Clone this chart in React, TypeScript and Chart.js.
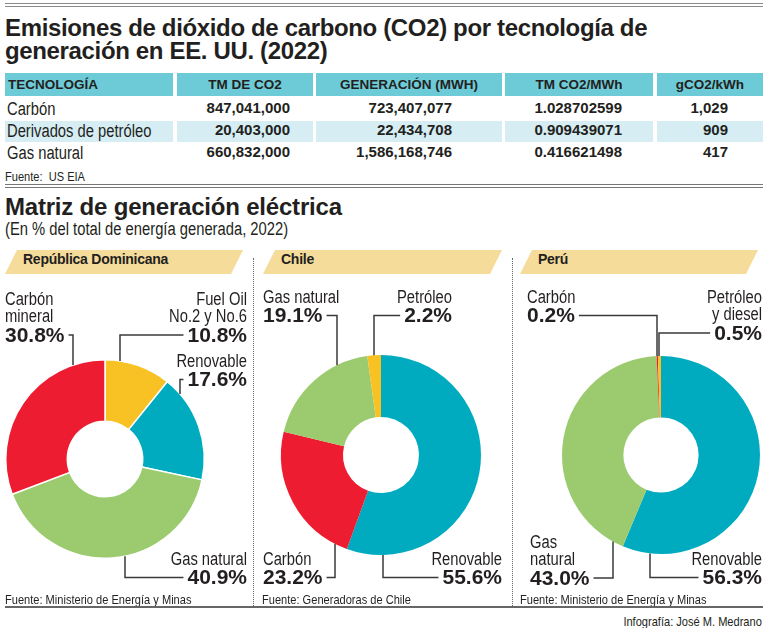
import React, { useEffect, useRef } from 'react';
import { Chart, registerables } from 'chart.js';

Chart.register(...registerables);

// ---------- DATA ----------
const tableHeaders = ['TECNOLOGÍA', 'TM DE CO2', 'GENERACIÓN (MWH)', 'TM CO2/MWh', 'gCO2/kWh'];
const techRows = ['Carbón', 'Derivados de petróleo', 'Gas natural'];
const tmCO2 = ['847,041,000', '20,403,000', '660,832,000'];
const generacion = ['723,407,077', '22,434,708', '1,586,168,746'];
const tmPerMWh = ['1.028702599', '0.909439071', '0.416621498'];
const gPerKWh = ['1,029', '909', '417'];

const drLabels = ['Fuel Oil\nNo.2 y No.6', 'Renovable', 'Gas natural', 'Carbón\nmineral'];
const drValues = [10.8, 17.6, 40.9, 30.8];
const chileLabels = ['Renovable', 'Carbón', 'Gas natural', 'Petróleo'];
const chileValues = [55.6, 23.2, 19.1, 2.2];
const peruLabels = ['Renovable', 'Gas\nnatural', 'Carbón', 'Petróleo\ny diesel'];
const peruValues = [56.3, 43.0, 0.2, 0.5];

// ---------- STYLE ----------
const RED = '#ed1c31';
const YELLOW = '#f8c124';
const TEAL = '#00abc0';
const GREEN = '#9bcb6e';
const INK = '#231f20';
const SANS = "'Liberation Sans', Arial, sans-serif";
const SQ = 0.82; // horizontal squeeze to mimic a narrow face

const drColors = [YELLOW, TEAL, GREEN, RED];
const chileColors = [TEAL, RED, GREEN, YELLOW];
const peruColors = [TEAL, GREEN, RED, YELLOW];

type Spec = { idx: number; align: 'left' | 'right'; x: number; y: number; vx: number; side: 'top' | 'bottom' };

const LINE = 17.5;

function leaderPlugin(specs: Spec[]) {
  return {
    id: 'leaders',
    afterDraw(chart: any) {
      const ctx: CanvasRenderingContext2D = chart.ctx;
      const arc: any = chart.getDatasetMeta(0).data[0];
      const cx = arc.x, cy = arc.y, r = arc.outerRadius;
      const labels = chart.data.labels as string[];
      const values = chart.data.datasets[0].data as number[];
      specs.forEach((s) => {
        const lines = String(labels[s.idx]).split('\n');
        const pct = values[s.idx].toFixed(1) + '%';
        ctx.save();
        ctx.fillStyle = INK;
        ctx.textBaseline = 'middle';
        ctx.textAlign = s.align;
        ctx.font = `18px ${SANS}`;
        lines.forEach((ln, i) => {
          ctx.save();
          ctx.translate(s.x, s.y + i * LINE);
          ctx.scale(SQ, 1);
          ctx.fillText(ln, 0, 0);
          ctx.restore();
        });
        const py = s.y + lines.length * LINE;
        ctx.font = `bold 21px ${SANS}`;
        ctx.fillText(pct, s.x, py + 1);
        const w = ctx.measureText(pct).width;
        const sx = s.align === 'left' ? s.x + w + 4 : s.x - w - 4;
        const dx = s.vx - cx;
        const h = Math.sqrt(Math.max(r * r - dx * dx, 0));
        const ey = s.side === 'top' ? cy - h : cy + h;
        ctx.strokeStyle = '#3a3a3a';
        ctx.lineWidth = 1.5;
        ctx.beginPath();
        ctx.moveTo(sx, py);
        ctx.lineTo(s.vx, py);
        ctx.lineTo(s.vx, ey);
        ctx.stroke();
        ctx.restore();
      });
    },
  };
}

type DonutProps = {
  labels: string[];
  values: number[];
  colors: string[];
  specs: Spec[];
  left: number;
  top: number;
  width: number;
  height: number;
  padding: { left: number; right: number; top: number; bottom: number };
  borderWidth: number;
};

function Donut(p: DonutProps) {
  const ref = useRef<HTMLCanvasElement>(null);
  useEffect(() => {
    const chart = new Chart(ref.current as HTMLCanvasElement, {
      type: 'doughnut',
      data: {
        labels: p.labels,
        datasets: [
          {
            data: p.values,
            backgroundColor: p.colors,
            borderColor: '#ffffff',
            borderWidth: p.borderWidth,
          },
        ],
      },
      options: {
        responsive: false,
        animation: false,
        events: [],
        cutout: '38%',
        layout: { padding: p.padding },
        plugins: { legend: { display: false }, tooltip: { enabled: false } },
      } as any,
      plugins: [leaderPlugin(p.specs)],
    });
    return () => chart.destroy();
  }, []);
  return (
    <canvas
      ref={ref}
      width={p.width}
      height={p.height}
      style={{ position: 'absolute', left: p.left, top: p.top, width: p.width, height: p.height }}
    />
  );
}

const abs = (o: React.CSSProperties): React.CSSProperties => ({ position: 'absolute', ...o });
const narrow = (o: React.CSSProperties, origin = '0 0'): React.CSSProperties =>
  abs({ fontFamily: SANS, whiteSpace: 'nowrap', transform: `scaleX(${SQ})`, transformOrigin: origin, ...o });

const cols = [
  { l: 5, r: 173, right: 0 },
  { l: 177, r: 313, right: 290 },
  { l: 316, r: 502, right: 452 },
  { l: 505, r: 653, right: 622 },
  { l: 657, r: 763, right: 728 },
];

function Banner({ left, width, text }: { left: number; width: number; text: string }) {
  return (
    <div
      style={abs({
        left,
        top: 250,
        width,
        height: 24,
        background: '#f6dc9a',
        clipPath: 'polygon(12px 0, 100% 0, calc(100% - 12px) 100%, 0 100%)',
      })}
    >
      <div
        style={abs({
          left: 18,
          top: 1,
          lineHeight: '24px',
          font: `bold 14px ${SANS}`,
          letterSpacing: '-0.25px',
          color: INK,
          whiteSpace: 'nowrap',
        })}
      >
        {text}
      </div>
    </div>
  );
}

export default function App() {
  const rowsData = [tmCO2, generacion, tmPerMWh, gPerKWh];
  return (
    <div
      style={abs({
        left: 0,
        top: 0,
        width: 768,
        height: 628,
        background: '#fff',
        overflow: 'hidden',
        color: INK,
        fontFamily: SANS,
      })}
    >
      {/* top double rule */}
      <div style={abs({ left: 5, top: 3, width: 758, height: 2, borderTop: '1.5px solid #8a8a8a', borderBottom: '1.5px solid #8a8a8a' })} />
      <div style={abs({ left: 5, top: 16, font: `bold 24px ${SANS}`, lineHeight: '24px', letterSpacing: '-0.35px', whiteSpace: 'nowrap' })}>
        Emisiones de dióxido de carbono (CO2) por tecnología de
      </div>
      <div style={abs({ left: 5, top: 39, font: `bold 24px ${SANS}`, lineHeight: '24px', letterSpacing: '-0.35px', whiteSpace: 'nowrap' })}>
        generación en EE. UU. (2022)
      </div>

      {/* table header */}
      {tableHeaders.map((h, i) => (
        <div
          key={h}
          style={abs({
            left: cols[i].l,
            top: 73,
            width: cols[i].r - cols[i].l,
            height: 23,
            background: '#6dcbd7',
            font: `bold 13.5px ${SANS}`,
            lineHeight: '23px',
            textAlign: i === 0 ? 'left' : 'center',
            paddingLeft: i === 0 ? 3 : 0,
            boxSizing: 'border-box',
            whiteSpace: 'nowrap',
          })}
        >
          {h}
        </div>
      ))}
      {/* table rows */}
      {techRows.map((t, r) => (
        <React.Fragment key={t}>
          {cols.map((c, i) => (
            <div
              key={i}
              style={abs({
                left: c.l,
                top: 99 + r * 22,
                width: c.r - c.l,
                height: 21,
                background: r === 1 ? '#d5edf3' : 'transparent',
              })}
            />
          ))}
          <div style={narrow({ left: 7, top: 99 + r * 22, lineHeight: '21px', fontSize: 18 })}>{t}</div>
          {rowsData.map((arr, i) => (
            <div
              key={i}
              style={abs({
                left: cols[i + 1].right - 200,
                width: 200,
                top: 99 + r * 22,
                lineHeight: '21px',
                font: `bold 15px ${SANS}`,
                textAlign: 'right',
                whiteSpace: 'nowrap',
              })}
            >
              {arr[r]}
            </div>
          ))}
        </React.Fragment>
      ))}
      <div style={narrow({ left: 5, top: 170, fontSize: 13.5, lineHeight: '14px', whiteSpace: 'pre' })}>Fuente:  US EIA</div>
      <div style={abs({ left: 5, top: 184, width: 758, height: 2, borderTop: '1.5px solid #777', borderBottom: '1.5px solid #777' })} />

      {/* second section */}
      <div style={abs({ left: 5, top: 195, font: `bold 24px ${SANS}`, lineHeight: '24px', letterSpacing: '-0.2px', whiteSpace: 'nowrap' })}>
        Matriz de generación eléctrica
      </div>
      <div style={narrow({ left: 5, top: 220, fontSize: 18, lineHeight: '18px' })}>
        (En % del total de energía generada, 2022)
      </div>

      <Banner left={5} width={238} text="República Dominicana" />
      <Banner left={263} width={239} text="Chile" />
      <Banner left={520} width={238} text="Perú" />

      <div style={abs({ left: 253, top: 258, height: 348, width: 0, borderLeft: '1.5px dotted #666' })} />
      <div style={abs({ left: 512, top: 258, height: 348, width: 0, borderLeft: '1.5px dotted #666' })} />

      <Donut
        labels={drLabels}
        values={drValues}
        colors={drColors}
        borderWidth={1.5}
        left={0}
        top={285}
        width={253}
        height={320}
        padding={{ left: 5, right: 48, top: 74, bottom: 46 }}
        specs={[
          { idx: 3, align: 'left', x: 5, y: 15, vx: 73, side: 'top' },
          { idx: 0, align: 'right', x: 247, y: 15, vx: 120, side: 'top' },
          { idx: 1, align: 'right', x: 247, y: 77, vx: 180, side: 'top' },
          { idx: 2, align: 'right', x: 247, y: 275, vx: 125, side: 'bottom' },
        ]}
      />
      <Donut
        labels={chileLabels}
        values={chileValues}
        colors={chileColors}
        borderWidth={0}
        left={256}
        top={285}
        width={256}
        height={320}
        padding={{ left: 25, right: 31, top: 70, bottom: 50 }}
        specs={[
          { idx: 2, align: 'left', x: 7, y: 13, vx: 81, side: 'top' },
          { idx: 3, align: 'right', x: 196, y: 13, vx: 118, side: 'top' },
          { idx: 1, align: 'left', x: 7, y: 275, vx: 79, side: 'bottom' },
          { idx: 0, align: 'right', x: 246, y: 275, vx: 127, side: 'bottom' },
        ]}
      />
      <Donut
        labels={peruLabels}
        values={peruValues}
        colors={peruColors}
        borderWidth={0}
        left={515}
        top={285}
        width={253}
        height={320}
        padding={{ left: 47, right: 8, top: 71, bottom: 51 }}
        specs={[
          { idx: 2, align: 'left', x: 12, y: 13, vx: 142, side: 'top' },
          { idx: 3, align: 'right', x: 247, y: 13, vx: 144, side: 'top' },
          { idx: 1, align: 'left', x: 15, y: 258, vx: 98, side: 'bottom' },
          { idx: 0, align: 'right', x: 247, y: 275, vx: 135, side: 'bottom' },
        ]}
      />

      <div style={narrow({ left: 5, top: 593, fontSize: 13.5, lineHeight: '14px' })}>Fuente: Ministerio de Energía y Minas</div>
      <div style={narrow({ left: 262, top: 593, fontSize: 13.5, lineHeight: '14px' })}>Fuente: Generadoras de Chile</div>
      <div style={narrow({ left: 520, top: 593, fontSize: 13.5, lineHeight: '14px' })}>Fuente: Ministerio de Energía y Minas</div>
      <div style={abs({ left: 5, top: 606, width: 758, height: 0, borderTop: '2px solid #666' })} />
      <div style={narrow({ right: 6, top: 615, fontSize: 13.5, lineHeight: '14px' }, '100% 0')}>Infografía: José M. Medrano</div>
    </div>
  );
}
